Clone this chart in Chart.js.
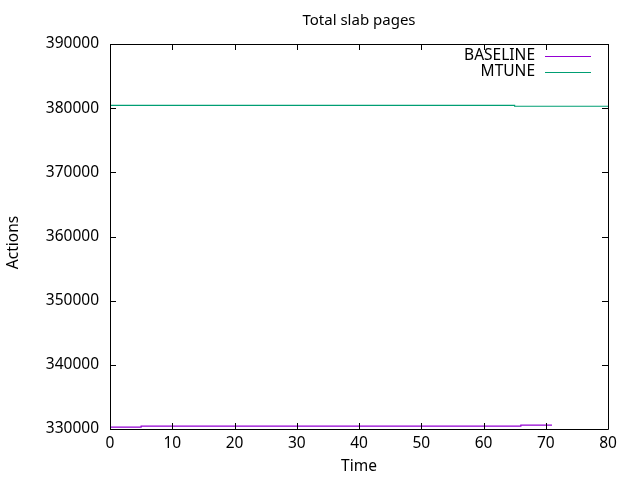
<!DOCTYPE html>
<html><head><meta charset="utf-8">
<script src="https://cdn.jsdelivr.net/npm/chart.js@4/dist/chart.umd.min.js"></script>
<style>html,body{margin:0;padding:0;background:#fff}#wrap{width:640px;height:480px}</style>
</head><body><div id="wrap"><canvas id="c" width="640" height="480"></canvas></div>
<script>
const titleText = "Total slab pages";
const xTitle = "Time";
const yTitle = "Actions";
const seriesNames = ["BASELINE", "MTUNE"];
const seriesColors = ["#9400d3", "#009e73"];
const baselineTimes = [0, 5, 66, 71];
const baselineValues = [330300, 330450, 330600, 330600];
const mtuneTimes = [0, 65, 80];
const mtuneValues = [380450, 380300, 380300];
const xTicks = [0, 10, 20, 30, 40, 50, 60, 70, 80];
const yTicks = [330000, 340000, 350000, 360000, 370000, 380000, 390000];

const FONT = "'Noto Sans', 'DejaVu Sans', sans-serif";
const toPts = (xs, ys) => xs.map((x, i) => ({x: x, y: ys[i]}));

const frame = {
  id: 'frame',
  afterDraw(chart) {
    const ctx = chart.ctx, a = chart.chartArea;
    const xs = chart.scales.x, ys = chart.scales.y;
    ctx.save();
    ctx.strokeStyle = '#000'; ctx.lineWidth = 1;
    ctx.beginPath();
    ctx.rect(Math.round(a.left) + 0.5, Math.round(a.top) + 0.5, Math.round(a.right - a.left), Math.round(a.bottom - a.top));
    ctx.stroke();
    const L = 6;
    ctx.beginPath();
    xTicks.forEach(v => {
      const p = Math.round(xs.getPixelForValue(v)) + 0.5;
      ctx.moveTo(p, a.bottom); ctx.lineTo(p, a.bottom - L);
      ctx.moveTo(p, a.top); ctx.lineTo(p, a.top + L);
    });
    yTicks.forEach(v => {
      const p = Math.round(ys.getPixelForValue(v)) + 0.5;
      ctx.moveTo(a.left, p); ctx.lineTo(a.left + L, p);
      ctx.moveTo(a.right, p); ctx.lineTo(a.right - L, p);
    });
    ctx.stroke();
    // titles
    ctx.fillStyle = '#000';
    ctx.font = '15px ' + FONT;
    ctx.textAlign = 'center'; ctx.textBaseline = 'middle';
    ctx.fillText(titleText, (a.left + a.right) / 2, 21);
    ctx.font = '15.5px ' + FONT;
    ctx.fillText(xTitle, (a.left + a.right) / 2, 467);
    ctx.save();
    ctx.translate(14, (a.top + a.bottom) / 2 + 6);
    ctx.rotate(-Math.PI / 2);
    ctx.fillText(yTitle, 0, 0);
    ctx.restore();
    // legend
    ctx.textAlign = 'right';
    seriesNames.forEach((n, i) => {
      const y = 56 + i * 16;
      ctx.fillStyle = '#000';
      ctx.fillText(n, 535, y);
      ctx.strokeStyle = seriesColors[i];
      ctx.beginPath(); ctx.moveTo(545, y + 0.5); ctx.lineTo(591, y + 0.5); ctx.stroke();
    });
    ctx.restore();
  }
};

new Chart(document.getElementById('c'), {
  type: 'line',
  data: {
    datasets: [
      {label: seriesNames[0], data: toPts(baselineTimes, baselineValues), borderColor: seriesColors[0], borderWidth: 1.2, pointRadius: 0, stepped: true, fill: false},
      {label: seriesNames[1], data: toPts(mtuneTimes, mtuneValues), borderColor: seriesColors[1], borderWidth: 1.2, pointRadius: 0, stepped: true, fill: false}
    ]
  },
  options: {
    responsive: false, animation: false,
    layout: {padding: {left: 0, right: 32, top: 44, bottom: 0}},
    plugins: {legend: {display: false}, title: {display: false}, tooltip: {enabled: false}},
    scales: {
      x: {
        type: 'linear', min: 0, max: 80,
        afterBuildTicks: s => { s.ticks = xTicks.map(v => ({value: v})); },
        afterFit: s => { s.height = 51; },
        grid: {display: false, drawTicks: false},
        border: {display: false},
        ticks: {color: '#000', font: {family: FONT, size: 15.5}, padding: 5, maxRotation: 0}
      },
      y: {
        type: 'linear', min: 330000, max: 390000,
        afterBuildTicks: s => { s.ticks = yTicks.map(v => ({value: v})); },
        afterFit: s => { s.width = 110; },
        grid: {display: false, drawTicks: false},
        border: {display: false},
        ticks: {color: '#000', font: {family: FONT, size: 15.5}, padding: 11, callback: v => String(v)}
      }
    }
  },
  plugins: [frame]
});
</script></body></html>
